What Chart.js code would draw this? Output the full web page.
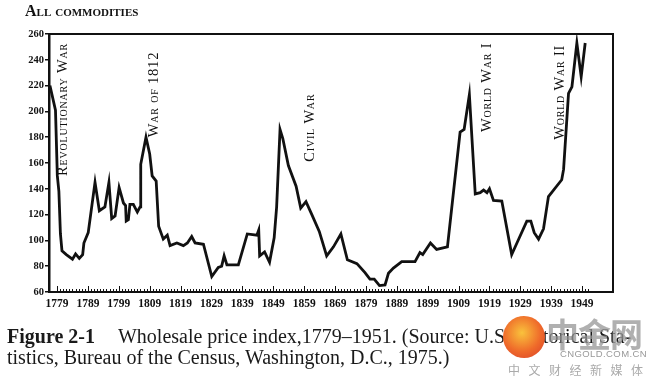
<!DOCTYPE html>
<html>
<head>
<meta charset="utf-8">
<script src="https://cdn.jsdelivr.net/npm/chart.js@4"></script>
<style>
  body { margin:0; background:#fff; }
  #wrap { position:relative; width:660px; height:387px; overflow:hidden; }
  #c { position:absolute; left:0; top:0; }
  .title { position:absolute; left:25px; top:2px; font:small-caps bold 16px "Liberation Serif", serif; color:#111; }
  .cap { position:absolute; left:7px; font:20px/22px "Liberation Serif", serif; color:#1a1a1a; white-space:nowrap; }
  .cap b { margin-right:23px; }
  .wm { position:absolute; font-family:"Noto Sans CJK SC", sans-serif; color:rgba(150,150,150,0.75); }
  .logo { position:absolute; left:503px; top:316px; width:42px; height:42px; border-radius:50%;
          background:radial-gradient(circle at 45% 40%, #f9c23c 0, #ef6a2a 55%, #d63c2a 100%); }
</style>
</head>
<body>
<div id="wrap">
  <canvas id="c" width="660" height="387"></canvas>
  <div class="title">All commodities</div>
  <div class="cap" style="top:325px"><b>Figure 2-1</b>Wholesale price index,1779–1951. (Source: U.S. Historical Sta-</div>
  <div class="cap" style="top:346px">tistics, Bureau of the Census, Washington, D.C., 1975.)</div>
  <div class="logo"></div>
  <div class="wm" style="left:546px;top:309px;font-size:33px;font-weight:bold;letter-spacing:-1px">中金网</div>
  <div class="wm" style="left:560px;top:348px;font-size:9.5px;font-family:'Liberation Sans',sans-serif;letter-spacing:0.4px;color:#999">CNGOLD.COM.CN</div>
  <div class="wm" style="left:508px;top:361px;font-size:12px;letter-spacing:8.5px;color:#aaa">中文财经新媒体</div>
</div>
<script>
// wholesale price index
const years = [1776.7,1778.5,1779.1,1779.6,1780.1,1780.6,1782,1784,1785,1786.2,1787.3,1787.7,1789.1,
  1791.3,1792.7,1794.5,1795.8,1796.7,1797.8,1799.1,1800.5,1801.2,1801.4,1802.1,1802.6,1803.7,1805,
  1805.9,1806.1,1807.8,1809,1809.8,1811.1,1811.9,1813.4,1814.7,1815.6,1817.8,1819.9,1821.2,1822.6,
  1823.7,1826.4,1829.1,1831.2,1832.3,1833.1,1834,1837.7,1840.6,1843.7,1844.3,1844.6,1846.2,1847.8,
  1849.3,1850.1,1851.2,1852.1,1853.9,1856.4,1857.9,1859.6,1861.5,1863.9,1866.3,1868.5,1870.9,1873,
  1876.1,1878.7,1880.3,1881.7,1883.4,1885.2,1886.3,1887.9,1890.6,1894.9,1896.5,1897.4,1899.9,1901.9,
  1905.4,1909.5,1910.8,1912.5,1914.4,1916,1917.1,1918.2,1919,1920.3,1923,1926.2,1927.9,1931.1,
  1932.4,1933.5,1934.9,1936.5,1938.1,1942.4,1943,1944.6,1945.7,1947.3,1948.7,1950];
const index = [220,201,150,138,105,92,89,85.5,89.5,86,89,98,106,
  145,123,126,145,117,119,141,129,127,115,116,128,128,122,
  126,159,180,167,150,146,111,101,104,96,98,96,98,103,
  98,97,72,79,80,88,81,81,105,104,108,88,91,83,
  102,126,186,179,158,142,125,130,120,107,88,95,105,85,
  82,75,70,70,65,65.5,74.5,78.5,83.5,83.5,90.5,89,98,93,
  95,184,186,213,136,137,139,137,140,131,130.5,89,98,115,
  115,106,101,109,134,147,155,214,219,253,227,253];

const xLabels = [1779,1789,1799,1809,1819,1829,1839,1849,1859,1869,1879,1889,1899,1909,1919,1929,1939,1949];

const notes = ['Revolutionary War','War of 1812','Civil War','World War I','World War II'];
const noteYears = [1780.9,1810.4,1860.9,1918.2,1941.9];
const noteBase = [150,180,161,184,178];

const serif = '"Liberation Serif", serif';

const frame = {
  id:'frame',
  afterDatasetsDraw(chart){
    const {ctx, chartArea:a, scales:{x,y}} = chart;
    ctx.save();
    ctx.strokeStyle = '#111';
    ctx.lineWidth = 2;
    ctx.beginPath();
    ctx.moveTo(a.left, a.top); ctx.lineTo(a.right, a.top); ctx.lineTo(a.right, a.bottom);
    ctx.stroke();
    // yearly ticks, taller every decade
    ctx.lineWidth = 1;
    for (let yr = 1779; yr <= 1951; yr++) {
      const px = Math.round(x.getPixelForValue(yr)) + 0.5;
      const len = (yr - 1779) % 10 === 0 ? 6 : 3;
      ctx.beginPath(); ctx.moveTo(px, a.bottom); ctx.lineTo(px, a.bottom - len); ctx.stroke();
    }
    // war labels
    ctx.fillStyle = '#111';
    ctx.font = 'small-caps 14.5px ' + serif;
    ctx.letterSpacing = '0.8px';
    ctx.textBaseline = 'middle';
    ctx.textAlign = 'left';
    notes.forEach((t, i) => {
      ctx.save();
      ctx.translate(x.getPixelForValue(noteYears[i]), y.getPixelForValue(noteBase[i]));
      ctx.rotate(-Math.PI / 2);
      ctx.fillText(t, 0, 0);
      ctx.restore();
    });
    ctx.restore();
  }
};

new Chart(document.getElementById('c'), {
  type:'line',
  data:{
    datasets:[{
      data: years.map((yr, i) => ({x: yr, y: index[i]})),
      borderColor:'#111',
      borderWidth:2.8,
      pointRadius:0,
      tension:0,
      borderJoinStyle:'miter'
    }]
  },
  options:{
    responsive:false,
    animation:false,
    devicePixelRatio:1,
    layout:{padding:{left:0,right:47,top:34,bottom:67}},
    plugins:{legend:{display:false}, tooltip:{enabled:false}},
    scales:{
      x:{
        type:'linear', min:1776.4, max:1959,
        afterBuildTicks: s => { s.ticks = xLabels.map(v => ({value:v})); },
        afterFit: s => { s.height = 28; },
        grid:{drawOnChartArea:false, drawTicks:false},
        border:{color:'#111', width:2},
        ticks:{autoSkip:false, maxRotation:0, padding:5, color:'#111',
               font:{family:serif, size:11.5, weight:'bold'}, callback: v => String(v)}
      },
      y:{
        min:60, max:260,
        afterFit: s => { s.width = 49; },
        grid:{drawOnChartArea:false, tickLength:4, color:'#111', lineWidth:1.5},
        border:{color:'#111', width:2.5},
        ticks:{stepSize:20, padding:1, color:'#111', font:{family:serif, size:10.5, weight:'bold'}}
      }
    }
  },
  plugins:[frame]
});
</script>
</body>
</html>
